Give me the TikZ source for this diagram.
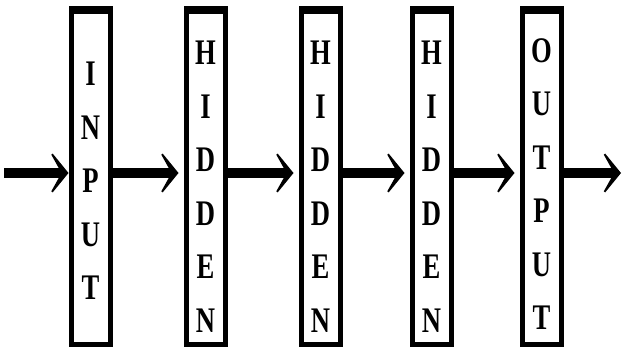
\documentclass[tikz,border=0pt]{standalone}
\usepackage{fontspec}
\usetikzlibrary{arrows.meta,positioning}
\newfontfamily\layfont[FakeStretch=0.74]{Liberation Serif}
\tikzset{
  layer/.style={draw=black, line width=5pt, minimum width=39pt, minimum height=335pt, inner sep=0pt},
  letters/.style={font=\layfont\bfseries\fontsize{36}{53.5}\selectfont, align=center, inner sep=0pt},
  flow/.style={-{Stealth[length=22pt, width=54pt, inset=15pt]}, line width=10pt},
}
\begin{document}
\begin{tikzpicture}[x=1pt,y=1pt]
  \useasboundingbox (0,0) rectangle (625,349);
  % layer boxes
  \node[layer] (in) at (90.5,172.5) {};
  \node[layer] (hid1) at (205.5,172.5) {};
  \node[layer] (hid2) at (320.5,172.5) {};
  \node[layer] (hid3) at (431.5,172.5) {};
  \node[layer] (out) at (541.5,172.5) {};
  \foreach \b in {in,hid1,hid2,hid3,out}{
    \fill (\b.north west) rectangle ([yshift=-8pt]\b.north east);
    \fill (\b.south west) rectangle ([yshift=3pt]\b.south east);}
  % stacked letters
  \node[letters] (inT) at ([yshift=-4.5pt]in.center) {I\\N\\P\\U\\T};
  \node[letters] (hid1T) at ([yshift=-10pt]hid1.center) {H\\I\\D\\D\\E\\N};
  \node[letters] (hid2T) at ([yshift=-10pt]hid2.center) {H\\I\\D\\D\\E\\N};
  \node[letters] (hid3T) at ([yshift=-10pt]hid3.center) {H\\I\\D\\D\\E\\N};
  \node[letters] (outT) at ([yshift=-7.5pt]out.center) {O\\U\\T\\P\\U\\T};
  % arrows
  \coordinate (start) at (4,176);
  \coordinate (finish) at (621,176);
  \draw[flow] (start) -- (start -| in.west);
  \draw[flow, shorten >=5pt] (in.east |- start) -- (hid1.west |- start);
  \draw[flow, shorten >=5pt] (hid1.east |- start) -- (hid2.west |- start);
  \draw[flow, shorten >=5pt] (hid2.east |- start) -- (hid3.west |- start);
  \draw[flow, shorten >=5pt] (hid3.east |- start) -- (out.west |- start);
  \draw[flow] (out.east |- start) -- (finish);
\end{tikzpicture}
\end{document}
